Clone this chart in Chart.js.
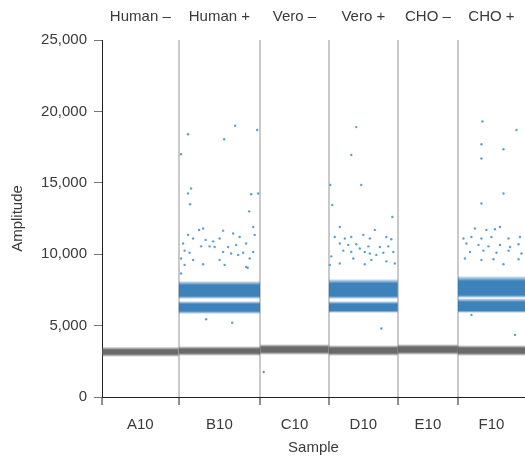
<!DOCTYPE html>
<html lang="en">
<head>
  <meta charset="UTF-8">
  <title>Amplitude by sample</title>
  <style>
    html, body { margin: 0; padding: 0; background: #fff; }
    #wrap { width: 525px; height: 457px; }
  </style>
</head>
<body>
  <div id="wrap"><canvas id="ampChart" width="525" height="457"></canvas></div>

  <script src="https://cdn.jsdelivr.net/npm/chart.js"></script>
  <script>
    // wells and what was loaded in them
    const wells = ['A10', 'B10', 'C10', 'D10', 'E10', 'F10'];
    const samples = ['Human \u2013', 'Human +', 'Vero \u2013', 'Vero +', 'CHO \u2013', 'CHO +'];
    // event index where each well starts / ends (concatenated droplets)
    const wellEdges = [0, 7650, 15800, 22650, 29550, 35550, 42250];
    const yTicks = [0, 5000, 10000, 15000, 20000, 25000];

    // negative droplet cluster (grey), per well
    const negTop      = [3500, 3550, 3690, 3620, 3690, 3620];
    const negCoreTop  = [3300, 3360, 3500, 3430, 3500, 3430];
    const negCoreBot  = [3010, 3080, 3150, 3080, 3150, 3080];
    const negBottom   = [2820, 2890, 2960, 2890, 2960, 2890];

    // positive droplet clusters (blue), null = no cluster in that well
    const upTop      = [null, 8100, null, 8240, null, 8450];
    const upCoreTop  = [null, 7840, null, 7950, null, 8120];
    const upCoreBot  = [null, 7070, null, 7070, null, 7140];
    const upBottom   = [null, 6880, null, 6880, null, 6950];
    const lowTop     = [null, 6700, null, 6700, null, 6900];
    const lowCoreTop = [null, 6510, null, 6510, null, 6650];
    const lowCoreBot = [null, 6020, null, 6050, null, 6050];
    const lowBottom  = [null, 5830, null, 5900, null, 5900];

    // scattered droplets [event, amplitude]
    const b10Points = [
      [13300,19000],[8600,18400],[12200,18050],[15500,18700],[7900,17000],[8900,14600],[8600,14250],
      [8800,13500],[14900,14200],[14700,13000],[15600,14250],
      [10100,11800],[9700,11700],[12100,11650],[15100,11900],[8600,11350],[9100,11100],[10350,11000],
      [11100,10900],[11750,11100],[13100,11450],[13750,11200],[15250,11350],[8100,10750],[9900,10550],
      [10750,10550],[11250,10500],[12600,10500],[13400,10650],[14400,10750],[8250,10250],[8750,10100],
      [12100,10150],[12900,10050],[13600,9950],[14100,10100],[15100,10150],[7900,9700],[9100,9600],
      [11750,9600],[14750,9700],[8250,9250],[10100,9300],[12250,9250],[14400,9100],[7900,8650],
      [14550,9050],[10400,5440],[13000,5200]
    ];
    const d10Points = [
      [25400,18900],[24900,16950],[25900,14850],[22800,14850],[23000,13450],[29000,12600],[23750,11900],
      [27250,11700],[23250,11200],[24250,11100],[24900,11200],[26100,11350],[26750,11100],[28400,11200],
      [28900,11050],[23750,10750],[24600,10650],[25400,10700],[25750,10400],[26600,10550],[27750,10500],
      [28600,10550],[24100,10250],[24900,10150],[26250,10150],[26750,10050],[27400,9950],[28100,10100],
      [29100,10150],[22900,9850],[25100,9700],[26900,9600],[28400,9500],[23750,9350],[26250,9300],
      [29250,9350],[22750,9250],[27900,4800]
    ];
    const f10Points = [
      [38000,19300],[41400,18700],[37900,17700],[40100,17350],[37900,16700],[40100,14250],[37900,13550],
      [37250,11800],[38400,11700],[39250,11750],[39750,11900],[36100,11100],[36900,11200],[37900,11100],
      [38900,11200],[40600,11100],[41750,11200],[36400,10750],[37600,10650],[38600,10550],[39750,10650],
      [40750,10500],[41600,10700],[36750,10150],[38100,10250],[39400,10100],[40600,10250],[41900,10050],
      [36250,9700],[37900,9600],[39100,9650],[41600,9650],[40100,9300],[36900,5750],[41250,4350]
    ];
    const strayNeg = [[16150,1750]];

    const FONT = "'Liberation Sans', Arial, Helvetica, sans-serif";
    const TXT = '#3a3a3a';

    const wellCenters = [];
    for (let i = 0; i < wells.length; i++) wellCenters.push((wellEdges[i] + wellEdges[i + 1]) / 2);
    const isEdge = v => wellEdges.indexOf(v) >= 0 && v < wellEdges[wellEdges.length - 1];

    // soft-edged fill: faint at the outer limits, dense between the core limits
    function bandColor(top, coreTop, coreBot, bot, rgb, aEdge, aCore) {
      return function(c) {
        const ch = c.chart;
        const ys = ch.scales.y;
        if (!ch.chartArea || !ys) return 'rgba(' + rgb + ',' + aCore + ')';
        const pTop = ys.getPixelForValue(top), pBot = ys.getPixelForValue(bot);
        const f1 = (ys.getPixelForValue(coreTop) - pTop) / (pBot - pTop);
        const f2 = (ys.getPixelForValue(coreBot) - pTop) / (pBot - pTop);
        const g = ch.ctx.createLinearGradient(0, pTop, 0, pBot);
        g.addColorStop(0, 'rgba(' + rgb + ',' + aEdge + ')');
        g.addColorStop(f1, 'rgba(' + rgb + ',' + aCore + ')');
        g.addColorStop(f2, 'rgba(' + rgb + ',' + aCore + ')');
        g.addColorStop(1, 'rgba(' + rgb + ',' + aEdge + ')');
        return g;
      };
    }

    // a filled band = top line filled down to bottom line
    function band(i, top, coreTop, coreBot, bot, rgb, aEdge, aCore) {
      const x0 = wellEdges[i], x1 = wellEdges[i + 1];
      return [
        { type: 'line', data: [{x: x0, y: top}, {x: x1, y: top}], fill: '+1',
          backgroundColor: bandColor(top, coreTop, coreBot, bot, rgb, aEdge, aCore),
          borderWidth: 0, pointRadius: 0, pointHoverRadius: 0 },
        { type: 'line', data: [{x: x0, y: bot}, {x: x1, y: bot}], fill: false, borderWidth: 0,
          pointRadius: 0, pointHoverRadius: 0 }
      ];
    }

    function pts(arr, color) {
      return { type: 'scatter', data: arr.map(p => ({x: p[0], y: p[1]})), backgroundColor: color,
               borderWidth: 0, pointRadius: 1.2, pointHoverRadius: 1.2, showLine: false };
    }

    // first dataset ends up on top
    let datasets = [
      pts(b10Points, '#5f9fd2'), pts(d10Points, '#5f9fd2'), pts(f10Points, '#5f9fd2'), pts(strayNeg, '#8a8a8a')
    ];
    const GREY = '85,85,85', BLUE = '28,108,176';
    for (let i = 0; i < wells.length; i++) {
      datasets = datasets.concat(band(i, negTop[i], negCoreTop[i], negCoreBot[i], negBottom[i], GREY, 0.12, 0.88));
      if (upTop[i] !== null) {
        datasets = datasets.concat(band(i, upTop[i], upCoreTop[i], upCoreBot[i], upBottom[i], BLUE, 0.15, 0.85));
        datasets = datasets.concat(band(i, lowTop[i], lowCoreTop[i], lowCoreBot[i], lowBottom[i], BLUE, 0.15, 0.85));
      }
    }

    new Chart(document.getElementById('ampChart'), {
      type: 'line',
      data: { datasets: datasets },
      options: {
        responsive: false,
        animation: false,
        layout: { padding: 0, autoPadding: false },
        plugins: { legend: { display: false }, tooltip: { enabled: false } },
        scales: {
          x: {
            type: 'linear', position: 'bottom', min: 0, max: wellEdges[wellEdges.length - 1], z: 1,
            afterBuildTicks: s => { s.ticks = wellEdges.slice(0, -1).concat(wellCenters).map(v => ({value: v})); },
            afterFit: s => { s.height = 60; },
            ticks: {
              autoSkip: false, maxRotation: 0, padding: 11, color: TXT, font: { family: FONT, size: 15 },
              callback: v => { const k = wellCenters.indexOf(v); return k >= 0 ? wells[k] : ''; }
            },
            grid: {
              drawOnChartArea: true, tickLength: 8,
              color: c => (c.tick && isEdge(c.tick.value) && c.tick.value > 0) ? '#c9c9c9' : 'rgba(0,0,0,0)',
              lineWidth: 2,
              tickColor: c => (c.tick && isEdge(c.tick.value)) ? '#222' : 'rgba(0,0,0,0)',
              tickWidth: 1
            },
            border: { color: '#222', width: 1 },
            title: { display: true, text: 'Sample', color: TXT, font: { family: FONT, size: 15 }, padding: { top: 0, bottom: 0 } }
          },
          xTop: {
            type: 'linear', axis: 'x', position: 'top', min: 0, max: wellEdges[wellEdges.length - 1],
            afterBuildTicks: s => { s.ticks = wellCenters.map(v => ({value: v})); },
            afterFit: s => { s.height = 40; },
            ticks: {
              autoSkip: false, maxRotation: 0, padding: 0, color: TXT, font: { family: FONT, size: 15 },
              callback: v => { const k = wellCenters.indexOf(v); return k >= 0 ? samples[k] : ''; }
            },
            grid: { display: true, drawOnChartArea: false, drawTicks: true, tickLength: 14, tickColor: 'rgba(0,0,0,0)' },
            border: { display: false }
          },
          y: {
            min: 0, max: 25000,
            afterBuildTicks: s => { s.ticks = yTicks.map(v => ({value: v})); },
            afterFit: s => { s.width = 102; },
            ticks: { padding: 7, color: TXT, font: { family: FONT, size: 15 } },
            grid: { drawOnChartArea: false, tickLength: 8, tickColor: '#777' },
            border: { color: '#222', width: 1 },
            title: { display: true, text: 'Amplitude', color: TXT, font: { family: FONT, size: 15 }, padding: { top: 9, bottom: 0 } }
          }
        }
      }
    });
  </script>
</body>
</html>
